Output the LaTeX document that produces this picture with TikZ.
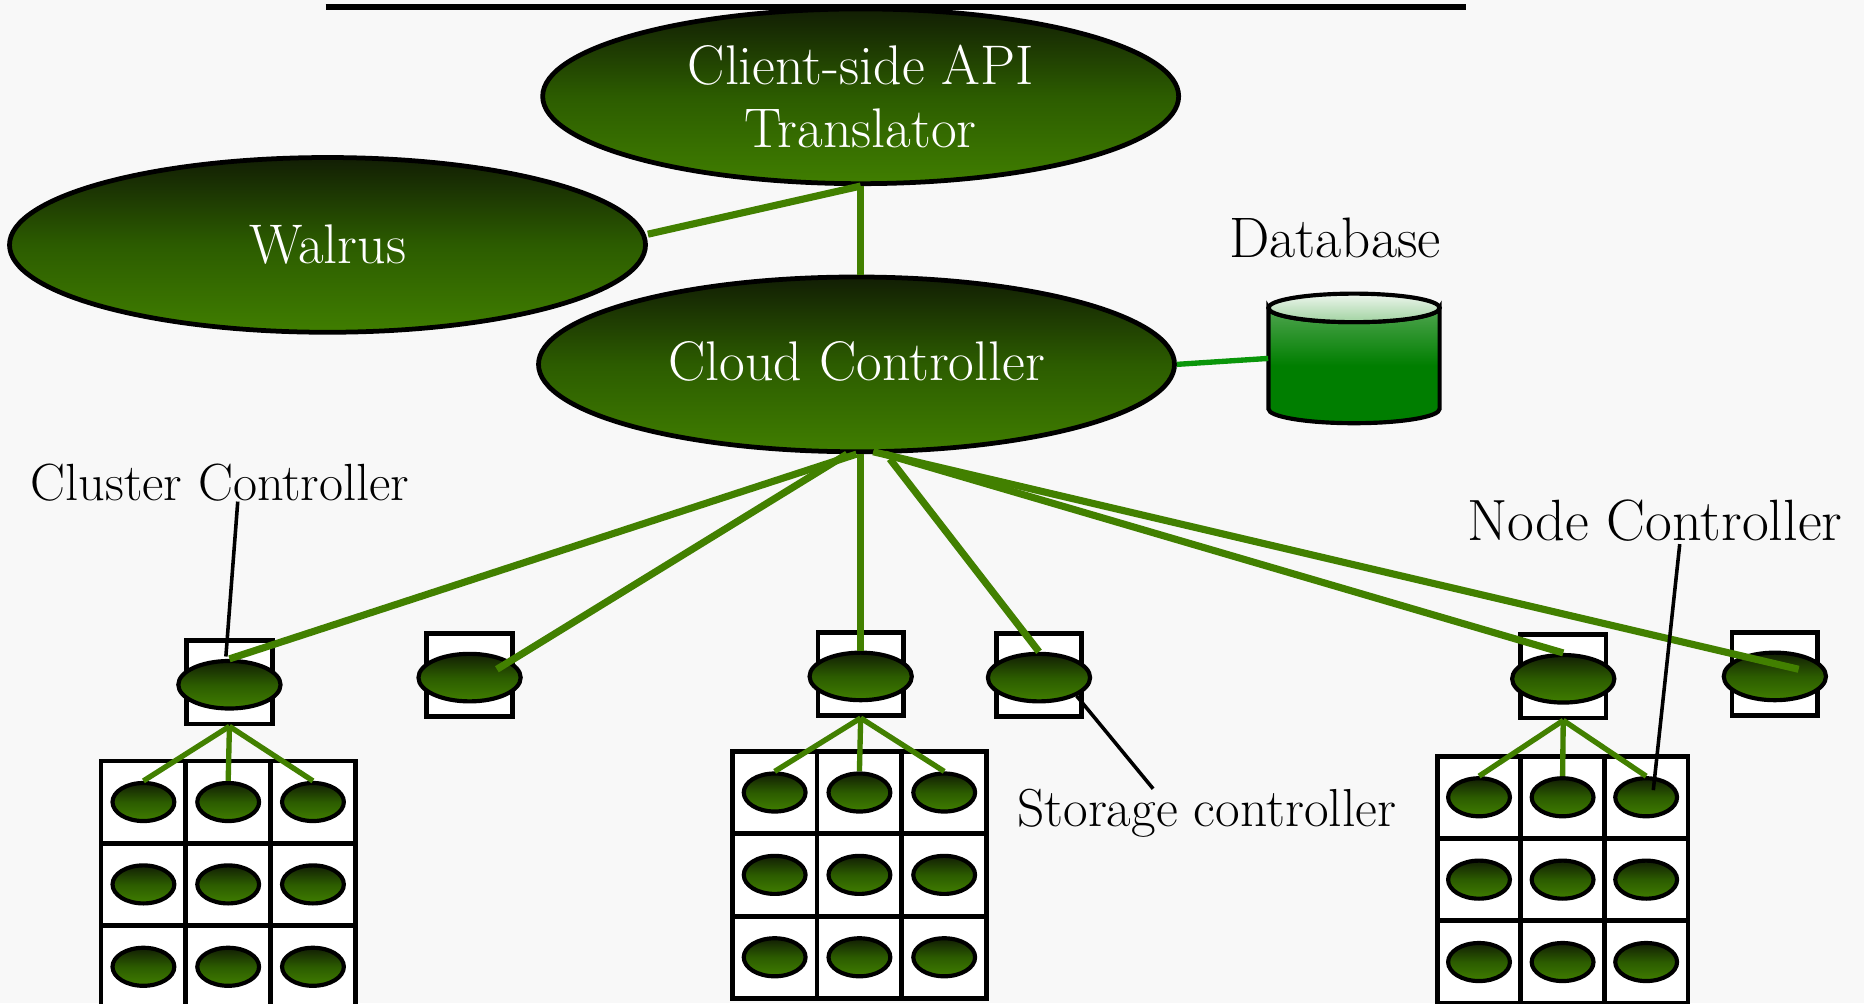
\documentclass[tikz,border=0pt]{standalone}
\usepackage{fontspec}
\usepackage{tikz}
\usetikzlibrary{shapes}
\usetikzlibrary{calc}

\definecolor{ctrltop}{RGB}{18,30,4}
\definecolor{ctrlmid}{RGB}{44,92,0}
\definecolor{ctrlbot}{RGB}{64,126,0}
\definecolor{linkgreen}{RGB}{66,128,0}
\definecolor{dbgreen}{RGB}{0,126,0}
\definecolor{dblight}{RGB}{80,165,80}
\definecolor{dbtopA}{RGB}{238,246,238}
\definecolor{dbtopB}{RGB}{160,210,160}
\definecolor{dblink}{RGB}{10,150,10}
\definecolor{paper}{RGB}{248,248,248}

\tikzset{
	shaded/.style={top color=ctrltop, bottom color=ctrlbot, middle color=ctrlmid},
	bigctrl/.style={ellipse, draw=black, line width=4pt, shaded, inner sep=0pt, minimum width=535pt, minimum height=147pt, text=white, align=center, font=\fontsize{47}{53}\selectfont},
	ctrl/.style={ellipse, draw=black, line width=3.5pt, shaded, inner sep=0pt, minimum width=86pt, minimum height=40pt},
	vm/.style={ellipse, draw=black, line width=3.5pt, shaded, inner sep=0pt, minimum width=52pt, minimum height=32pt},
	ccbox/.style={rectangle, draw=black, fill=white, line width=4pt, inner sep=0pt, minimum width=72pt, minimum height=70pt},
	cell/.style={rectangle, draw=black, fill=white, line width=4pt, inner sep=0pt, minimum width=71pt, minimum height=69pt},
	lbl/.style={inner sep=0pt, font=\fontsize{44}{52}\selectfont},
	link/.style={draw=linkgreen, line width=6pt},
	sublink/.style={draw=linkgreen, line width=4.5pt},
	leader/.style={draw=black, line width=3pt}
}

\begin{document}
\begin{tikzpicture}[x=1pt, y=-1pt]
		\fill[paper] (0,0) rectangle (1568,844);
		\useasboundingbox (0,0) rectangle (1568,844);
		
		\draw[line width=5pt] (274,6) -- (1233,6);
		
		% main controllers
		\node[bigctrl] (client) at (724,81) {Client-side API\\Translator};
		\node[bigctrl] (walrus) at (275.5,206) {Walrus};
		\node[bigctrl] (cloud) at (720.5,306.5) {\raisebox{6pt}{Cloud Controller}};
		
		% database
		\node[minimum width=144pt, minimum height=85pt, inner sep=0pt] (db) at (1139,301.5) {};
		\draw[line width=3.5pt, top color=dblight, bottom color=dbgreen, middle color=dbgreen]
			(1067,259) -- (1067,344) arc[start angle=180, end angle=360, x radius=72pt, y radius=12pt]
			-- (1211,259) arc[start angle=0, end angle=-180, x radius=72pt, y radius=12pt] -- cycle;
		\draw[line width=3.5pt, top color=dbtopA, bottom color=dbtopB] (1139,259) ellipse [x radius=72pt, y radius=12pt];
		\node[lbl, font=\fontsize{48}{56}\selectfont] (dblabel) at (1123,200) {Database};
		
		\draw[link] ($(walrus.east)+(0,-9)$) -- (client.south);
		\draw[link] (client.south) -- (client.south |- cloud.north);
		\draw[draw=dblink, line width=4.5pt] (cloud.east) -- (db.west);
		
		% cluster level
		\foreach \n/\x/\y in {1/193/574, 2/395/568, 3/724/567, 4/874/568, 5/1315/569, 6/1493/567}{
			\node[ccbox] (B-\n) at (\x,\y) {};
			\node[ctrl] (C-\n) at (\x,\y+2) {};
		}
		
		% node grids
		\foreach \g/\gx/\gy/\gw in {1/85/640/71.3, 2/616/632/71.3, 3/1209/636/70.3}{
			\foreach \r in {1,2,3}{
				\foreach \c in {1,2,3}{
					\node[cell, minimum width=\gw pt] (G\g-\r\c) at ({\gx+(\c-0.5)*\gw},{\gy+(\r-0.5)*69.3}) {};
					\node[vm] (V\g-\r\c) at (G\g-\r\c) {};
				}
			}
		}
		
		% links from the cloud controller
		\draw[link] (cloud.south) -- (C-1.north);
		\draw[link] ($(cloud.south)+(-8,0)$) -- ($(C-2)+(23,-7)$);
		\draw[link] (cloud.south -| C-3) -- (C-3.north);
		\draw[link] ($(cloud.south)+(28,4)$) -- (C-4.north);
		\draw[link] ($(cloud.south)+(24,0)$) -- (C-5.north);
		\draw[link] ($(cloud.south)+(14,-2)$) -- ($(C-6)+(20,-6)$);
		
		% links to the nodes
		\foreach \g/\b in {1/1, 2/3, 3/5}{
			\foreach \c in {1,2,3}{
				\draw[sublink] (B-\b.south) -- (V\g-1\c.north);
			}
		}
		
		% labels
		\node[lbl] (cclabel) at (185,406) {Cluster Controller};
		\node[lbl, font=\fontsize{49}{57}\selectfont] (nclabel) at (1392,438) {Node Controller};
		\node[lbl, font=\fontsize{45}{53}\selectfont] (sclabel) at (1015,684) {Storage controller};
		\draw[leader] ($(cclabel.south)+(15,0)$) -- ($(C-1.north)+(-3,-2)$);
		\draw[leader] ($(nclabel.south)+(21,2)$) -- ($(V3-13)+(6,-6)$);
		\draw[leader] ($(sclabel.north)+(-45,0)$) -- (C-4.south east);
		%\draw[leader] (B-4) -- (sclabel);
\end{tikzpicture}
\end{document}
